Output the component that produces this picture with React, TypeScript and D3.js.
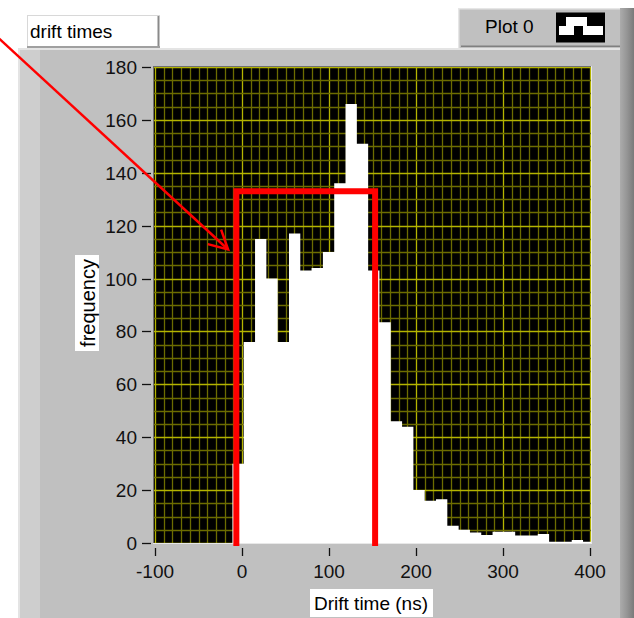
import React from 'react';
import * as d3 from 'd3';

// ---- data ----
const binStart = [-11, 2, 15, 28, 41, 54, 67, 80, 93, 106, 119, 132, 145, 158, 171, 184, 197, 210, 223, 236, 249, 262, 275, 288, 301, 314, 327, 340, 353, 366, 379, 392];
const binWidth = 13;
const frequency = [30, 76, 115, 100, 76, 117, 103, 104, 110, 136, 166, 151, 103, 83.5, 46, 44, 20, 16, 16.5, 6.5, 5, 4, 3, 4.3, 4.3, 2.8, 2.8, 3.4, 0.5, 0.5, 1.1, 0.5];
const xTicks = [-100, 0, 100, 200, 300, 400];
const yTicks = [0, 20, 40, 60, 80, 100, 120, 140, 160, 180];
const chartTitle = 'drift times';
const legendLabel = 'Plot 0';
const xLabel = 'Drift time (ns)';
const yLabel = 'frequency';
// annotation window (ns, frequency)
const windowRange = [-6.5, 153];
const windowTop = 133;
// arrow annotation (ns, frequency)
const arrowTail = [-280, 191];
const arrowTip = [-16, 111];

const FONT = '"Liberation Sans", Arial, sans-serif';

export default function App() {
  const W = 634, H = 618;
  const x = d3.scaleLinear().domain([-100, 400]).range([155, 590]);
  const y = d3.scaleLinear().domain([0, 180]).range([543, 67]);
  const P = { x0: 153, x1: 592, y0: 66, y1: 544 };

  const minorX = d3.range(-100, 401, 10);
  const minorY = d3.range(0, 181, 5);

  const pts = binStart.map((s, i) => ({ t: s, v: frequency[i] }));
  pts.push({ t: binStart[binStart.length - 1] + binWidth, v: frequency[frequency.length - 1] });
  const area = d3.area<{ t: number; v: number }>()
    .x((d) => x(d.t))
    .y0(y(0) + 1)
    .y1((d) => y(d.v))
    .curve(d3.curveStepAfter);

  const winPath = d3.path();
  winPath.moveTo(x(windowRange[0]), y(0) + 3);
  winPath.lineTo(x(windowRange[0]), y(windowTop));
  winPath.lineTo(x(windowRange[1]), y(windowTop));
  winPath.lineTo(x(windowRange[1]), y(0) + 3);

  const tx = x(arrowTip[0]), ty = y(arrowTip[1]);
  const sx = x(arrowTail[0]), sy = y(arrowTail[1]);
  const ang = Math.atan2(sy - ty, sx - tx);
  const L = 21, spread = (28 * Math.PI) / 180;
  const h1 = [tx + L * Math.cos(ang - spread), ty + L * Math.sin(ang - spread)];
  const h2 = [tx + L * Math.cos(ang + spread), ty + L * Math.sin(ang + spread)];

  const snap = (p: number) => Math.round(p) + 0.5;

  return (
    <svg width={W} height={H} style={{ position: 'absolute', left: 0, top: 0, display: 'block' }} fontFamily={FONT}>
      <defs>
        <clipPath id="plotClip">
          <rect x={P.x0} y={P.y0} width={P.x1 - P.x0} height={P.y1 - P.y0} />
        </clipPath>
        <linearGradient id="rightBand" x1="0" x2="1" y1="0" y2="0">
          <stop offset="0" stopColor="#acacac" />
          <stop offset="0.5" stopColor="#959595" />
          <stop offset="1" stopColor="#7a7a7a" />
        </linearGradient>
      </defs>
      <rect x={0} y={0} width={W} height={H} fill="#ffffff" />

      {/* panel */}
      <rect x={18} y={48} width={604} height={H - 48} fill="#c0c0c0" />
      <rect x={18} y={48} width={22} height={H - 48} fill="#cecece" />
      <rect x={18} y={48} width={2} height={H - 48} fill="#e4e4e4" />
      <rect x={18} y={48} width={604} height={2} fill="#e4e4e4" />

      {/* legend */}
      <rect x={458} y={8} width={164} height={40} fill="#c0c0c0" />
      <rect x={458} y={8} width={164} height={1.5} fill="#e6e6e6" />
      <rect x={458} y={8} width={1.5} height={40} fill="#e6e6e6" />
      <rect x={461} y={45.5} width={161} height={1.5} fill="#808080" />
      <rect x={620} y={8} width={14} height={H - 8} fill="url(#rightBand)" />
      <text x={485} y={33} fontSize={19} fill="#000">{legendLabel}</text>
      <rect x={556} y={12.5} width={49} height={30} fill="#000" />
      <rect x={559} y={26} width={15} height={9} fill="#fff" />
      <rect x={566} y={17} width={21} height={9} fill="#fff" />
      <rect x={583} y={26} width={20} height={9} fill="#fff" />

      {/* title box */}
      <rect x={27} y={15} width={133} height={33} fill="#ffffff" />
      <rect x={27} y={15} width={133} height={1} fill="#d8d8d8" />
      <rect x={27} y={15} width={1} height={33} fill="#d8d8d8" />
      <rect x={157.5} y={16} width={2} height={32} fill="#8a8a8a" />
      <rect x={27} y={46} width={133} height={2} fill="#a0a0a0" />
      <text x={30} y={37.5} fontSize={19} fill="#000">{chartTitle}</text>

      {/* plot area */}
      <rect x={P.x0} y={P.y0} width={P.x1 - P.x0} height={P.y1 - P.y0} fill="#000" />
      <g clipPath="url(#plotClip)">
        {minorX.map((v) => (
          <line key={'mx' + v} x1={snap(x(v))} x2={snap(x(v))} y1={P.y0} y2={P.y1}
            stroke={v % 100 === 0 ? '#b4b400' : '#6c6c00'} strokeWidth={1.3} />
        ))}
        {minorY.map((v) => (
          <line key={'my' + v} x1={P.x0} x2={P.x1} y1={snap(y(v))} y2={snap(y(v))}
            stroke={v % 20 === 0 ? '#b4b400' : '#6c6c00'} strokeWidth={1.3} />
        ))}
        <path d={area(pts) || ''} fill="#ffffff" />
      </g>
      <line x1={P.x0 + 0.5} x2={P.x0 + 0.5} y1={P.y0} y2={P.y1} stroke="#707070" />
      <line x1={P.x0} x2={P.x1} y1={P.y0 + 0.5} y2={P.y0 + 0.5} stroke="#707070" />
      <line x1={P.x1 - 0.5} x2={P.x1 - 0.5} y1={P.y0} y2={P.y1} stroke="#e8e8e8" />
      <line x1={P.x0} x2={P.x1} y1={P.y1 - 0.5} y2={P.y1 - 0.5} stroke="#e8e8e8" />

      {/* y axis */}
      {yTicks.map((v) => (
        <g key={'yt' + v}>
          <line x1={142} x2={151} y1={snap(y(v))} y2={snap(y(v))} stroke="#111" strokeWidth={1.3} />
          <text x={137} y={y(v) + 7} textAnchor="end" fontSize={19} fill="#111">{v}</text>
        </g>
      ))}
      {/* x axis */}
      {xTicks.map((v) => (
        <g key={'xt' + v}>
          <line x1={snap(x(v))} x2={snap(x(v))} y1={548} y2={556} stroke="#111" strokeWidth={1.3} />
          <text x={x(v)} y={578} textAnchor="middle" fontSize={19} fill="#111">{v}</text>
        </g>
      ))}

      {/* axis labels */}
      <rect x={75} y={255} width={24} height={96} fill="#ffffff" />
      <text transform="translate(88,303) rotate(-90)" textAnchor="middle" dominantBaseline="central" fontSize={20} fill="#000">{yLabel}</text>
      <rect x={310} y={589} width={123} height={28} fill="#ffffff" />
      <text x={371} y={610} textAnchor="middle" fontSize={19} fill="#000">{xLabel}</text>

      {/* annotations */}
      <path d={winPath.toString()} fill="none" stroke="#ff0000" strokeWidth={6} strokeLinejoin="miter" />
      <line x1={sx} y1={sy} x2={tx} y2={ty} stroke="#ff0000" strokeWidth={2.5} />
      <path d={`M${h1[0]},${h1[1]}L${tx},${ty}L${h2[0]},${h2[1]}`} fill="none" stroke="#ff0000" strokeWidth={2.5} />
    </svg>
  );
}
